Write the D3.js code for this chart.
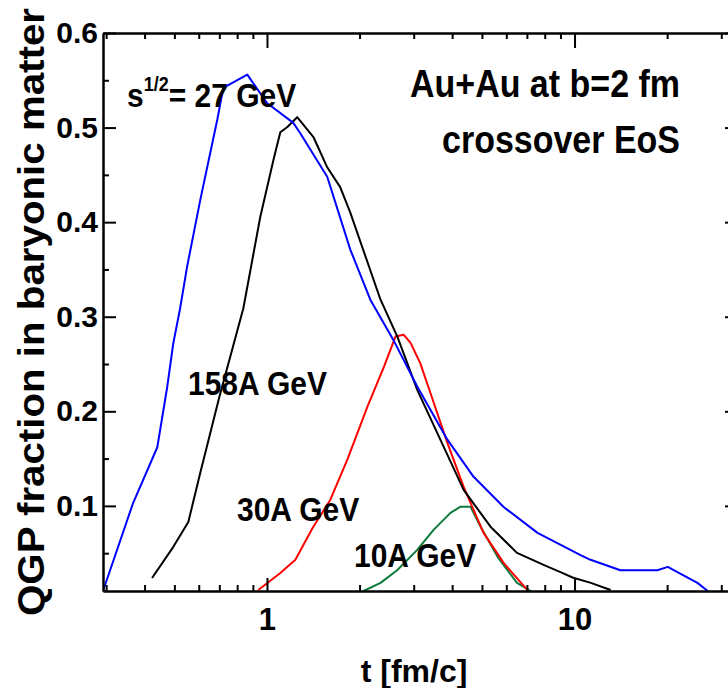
<!DOCTYPE html>
<html>
<head>
<meta charset="utf-8">
<script src="https://cdn.jsdelivr.net/npm/d3@7"></script>
<style>
  html, body { margin: 0; padding: 0; background: #fff; }
  svg { display: block; }
  text { font-family: "Liberation Sans", Arial, sans-serif; font-weight: bold; fill: #000; }
</style>
</head>
<body>
<svg id="chart" width="728" height="688"></svg>
<script>
// ---- data ----
const tBlue = [0.293, 0.367, 0.44, 0.474, 0.496, 0.522, 0.55, 0.607, 0.689, 0.721, 0.863, 1.0, 1.218, 1.283, 1.57, 1.866, 2.168, 2.576, 3.083, 3.861, 4.69, 5.87, 7.58, 10.46, 11.27, 14.1, 18.6, 20.1, 21.6, 25.1, 27.1];
const fBlue = [0.010, 0.103, 0.162, 0.226, 0.272, 0.309, 0.353, 0.4235, 0.508, 0.542, 0.556, 0.526, 0.505, 0.494, 0.448, 0.371, 0.318, 0.2755, 0.226, 0.170, 0.131, 0.099, 0.0715, 0.048, 0.043, 0.032, 0.032, 0.0355, 0.030, 0.0186, 0.010];

const tBlack = [0.423, 0.496, 0.555, 0.607, 0.7, 0.838, 0.951, 1.05, 1.105, 1.165, 1.254, 1.416, 1.57, 1.73, 1.866, 2.34, 2.654, 3.08, 3.58, 4.36, 5.33, 6.5, 7.93, 9.0, 9.9, 11.3, 13.1];
const fBlack = [0.0238, 0.0567, 0.083, 0.135, 0.215, 0.309, 0.4055, 0.466, 0.495, 0.5006, 0.511, 0.49, 0.458, 0.437, 0.41, 0.318, 0.279, 0.2226, 0.177, 0.117, 0.078, 0.0503, 0.0376, 0.030, 0.024, 0.0186, 0.011];

const tRed = [0.937, 1.105, 1.237, 1.407, 1.606, 1.825, 2.12, 2.4, 2.617, 2.78, 2.93, 3.15, 3.4, 3.86, 4.36, 5.06, 5.88, 7.03];
const fRed = [0.011, 0.029, 0.043, 0.0767, 0.1063, 0.149, 0.2046, 0.247, 0.279, 0.281, 0.2723, 0.251, 0.2194, 0.1666, 0.12, 0.0715, 0.0397, 0.011];

const tGreen = [2.06, 2.34, 2.65, 3.08, 3.48, 3.95, 4.25, 4.59, 4.95, 5.62, 6.5, 7.2];
const fGreen = [0.01, 0.0186, 0.032, 0.0535, 0.0746, 0.0926, 0.099, 0.099, 0.078, 0.0461, 0.0186, 0.01];

const xMajorTicks = [1, 10];
const xMinorTicks = [0.3, 0.4, 0.5, 0.6, 0.7, 0.8, 0.9, 2, 3, 4, 5, 6, 7, 8, 9, 20, 30];
const yMajorTicks = [0.1, 0.2, 0.3, 0.4, 0.5, 0.6];
const yMinorTicks = [0.05, 0.15, 0.25, 0.35, 0.45, 0.55];

const seriesNames = ["s1/2 = 27 GeV", "158A GeV", "30A GeV", "10A GeV"];
const seriesColors = ["#0000ff", "#000000", "#ff0000", "#0b7a3b"];

// ---- layout ----
const svg = d3.select("#chart");
const L = 103, R = 738, T = 33, B = 591;

const x = d3.scaleLog().domain([0.293, 34]).range([L, R]);
const y = d3.scaleLinear().domain([0.01, 0.6]).range([B, T]);

svg.append("defs").append("clipPath").attr("id", "plotclip")
  .append("rect").attr("x", L).attr("y", T - 2).attr("width", R - L).attr("height", B - T + 4);

// ---- curves ----
const series = [
  { t: tBlue, f: fBlue },
  { t: tBlack, f: fBlack },
  { t: tRed, f: fRed },
  { t: tGreen, f: fGreen }
];
const line = d3.line().x(d => x(d[0])).y(d => y(d[1]));
const gCurves = svg.append("g").attr("clip-path", "url(#plotclip)");
[3, 2, 1, 0].forEach(i => {
  const s = series[i];
  const pts = s.t.map((tv, k) => [tv, s.f[k]]);
  gCurves.append("path")
    .datum(pts)
    .attr("fill", "none")
    .attr("stroke", seriesColors[i])
    .attr("stroke-width", 2)
    .attr("stroke-linejoin", "round")
    .attr("d", line);
});

// ---- axes ----
function styleAxis(g) {
  g.selectAll("path.domain").attr("stroke", "#000").attr("stroke-width", 2);
  g.selectAll(".tick line").attr("stroke", "#000").attr("stroke-width", 2);
  g.selectAll(".tick text").attr("font-family", '"Liberation Sans", Arial, sans-serif')
    .attr("font-weight", "bold").attr("fill", "#000");
}

svg.append("g").attr("transform", `translate(0,${B})`)
  .call(d3.axisBottom(x).tickValues(xMinorTicks).tickSize(-6).tickSizeOuter(0).tickFormat(""))
  .call(styleAxis);
svg.append("g").attr("transform", `translate(0,${B})`)
  .call(d3.axisBottom(x).tickValues(xMajorTicks).tickSize(-13).tickSizeOuter(0).tickPadding(17)
    .tickFormat(d3.format("d")))
  .call(styleAxis)
  .call(g => g.selectAll(".tick text").attr("font-size", 31));

svg.append("g").attr("transform", `translate(0,${T})`)
  .call(d3.axisTop(x).tickValues(xMinorTicks).tickSize(-6).tickSizeOuter(0).tickFormat(""))
  .call(styleAxis);
svg.append("g").attr("transform", `translate(0,${T})`)
  .call(d3.axisTop(x).tickValues(xMajorTicks).tickSize(-15).tickSizeOuter(0).tickFormat(""))
  .call(styleAxis);

svg.append("g").attr("transform", `translate(${L},0)`)
  .call(d3.axisLeft(y).tickValues(yMinorTicks).tickSize(-6).tickSizeOuter(0).tickFormat(""))
  .call(styleAxis);
svg.append("g").attr("transform", `translate(${L},0)`)
  .call(d3.axisLeft(y).tickValues(yMajorTicks).tickSize(-13).tickSizeOuter(0).tickPadding(5)
    .tickFormat(d3.format(".1f")))
  .call(styleAxis)
  .call(g => g.selectAll(".tick text").attr("font-size", 30));

svg.append("g").attr("transform", `translate(${R},0)`)
  .call(d3.axisRight(y).tickValues(yMinorTicks).tickSize(-6).tickSizeOuter(0).tickFormat(""))
  .call(styleAxis);
svg.append("g").attr("transform", `translate(${R},0)`)
  .call(d3.axisRight(y).tickValues(yMajorTicks).tickSize(-13).tickSizeOuter(0).tickFormat(""))
  .call(styleAxis);

// ---- axis titles ----
svg.append("text")
  .attr("transform", "translate(44,312) rotate(-90)")
  .attr("text-anchor", "middle")
  .attr("font-size", 37)
  .attr("textLength", 608)
  .attr("lengthAdjust", "spacingAndGlyphs")
  .text("QGP fraction in baryonic matter");

svg.append("text")
  .attr("x", 414).attr("y", 682)
  .attr("text-anchor", "middle")
  .attr("font-size", 32)
  .text("t [fm/c]");

// ---- annotations (glyphs slightly taller than wide, as in the reference) ----
function label(px, py, size, anchor) {
  return svg.append("text")
    .attr("transform", `translate(${px},${py}) scale(1,1.12)`)
    .attr("text-anchor", anchor || "start")
    .attr("font-size", size);
}
const s27 = label(127, 107, 30);
s27.append("tspan").text("s");
s27.append("tspan").attr("font-size", 18).attr("dy", -14).text("1/2");
s27.append("tspan").attr("dy", 14).text("= 27 GeV");

label(188, 395, 30).text(seriesNames[1]);
label(237, 521, 30).text(seriesNames[2]);
label(354, 567, 30).text(seriesNames[3]);

label(680, 97, 34, "end").text("Au+Au at b=2 fm");
label(680, 153, 34, "end").text("crossover EoS");
</script>
</body>
</html>
